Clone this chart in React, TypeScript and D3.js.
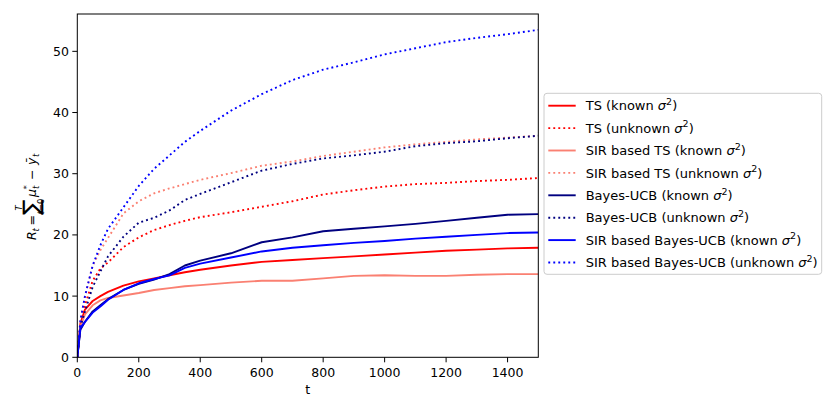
import React from 'react';
import * as d3 from 'd3';

// time steps and cumulative regret
const steps = [0, 10, 25, 50, 75, 100, 150, 200, 250, 300, 350, 400, 500, 600, 700, 800, 900, 1000, 1100, 1200, 1300, 1400, 1500];

const tsKnown = [0, 5.5, 7.8, 9.2, 10.0, 10.7, 11.7, 12.4, 12.9, 13.4, 13.9, 14.3, 15.0, 15.6, 15.9, 16.2, 16.5, 16.8, 17.1, 17.4, 17.6, 17.8, 17.9];
const tsUnknown = [0, 5, 8.5, 12.5, 14.5, 15.5, 18.0, 19.6, 20.8, 21.6, 22.3, 22.9, 23.7, 24.6, 25.5, 26.6, 27.3, 27.9, 28.3, 28.5, 28.8, 29.0, 29.3];
const sirTsKnown = [0, 5, 7.0, 8.5, 9.3, 9.7, 10.1, 10.5, 11.0, 11.3, 11.6, 11.8, 12.2, 12.5, 12.5, 12.9, 13.3, 13.4, 13.3, 13.3, 13.5, 13.6, 13.6];
const sirTsUnknown = [0, 6, 10, 15, 17.5, 19.5, 23.5, 25.5, 26.8, 27.6, 28.3, 29.0, 30.1, 31.3, 32.0, 32.9, 33.6, 34.3, 34.8, 35.2, 35.6, 35.9, 36.2];
const ucbKnown = [0, 4.5, 5.8, 7.5, 8.5, 9.5, 11.0, 12.0, 12.7, 13.6, 15.0, 15.8, 17.0, 18.8, 19.6, 20.6, 21.0, 21.4, 21.8, 22.3, 22.8, 23.3, 23.4];
const ucbUnknown = [0, 5, 7.5, 11.5, 14.0, 16.5, 19.7, 22.0, 22.8, 24.0, 25.7, 26.7, 28.6, 30.5, 31.6, 32.5, 33.0, 33.6, 34.5, 35.0, 35.3, 35.8, 36.2];
const sirUcbKnown = [0, 4.8, 5.8, 7.3, 8.3, 9.4, 11.0, 12.1, 12.8, 13.4, 14.6, 15.3, 16.3, 17.3, 17.9, 18.3, 18.7, 19.0, 19.4, 19.7, 20.0, 20.3, 20.4];
const sirUcbUnknown = [0, 6, 10, 15, 18.3, 21.0, 24.5, 28.0, 30.8, 33.0, 35.2, 37.0, 40.3, 43.0, 45.3, 47.0, 48.2, 49.5, 50.5, 51.5, 52.2, 52.8, 53.5];

const xTicks = [0, 200, 400, 600, 800, 1000, 1200, 1400];
const yTicks = [0, 10, 20, 30, 40, 50];

const series = [
  { name: 'TS', values: tsKnown, color: 'red', dotted: false },
  { name: 'TS', values: tsUnknown, color: 'red', dotted: true },
  { name: 'SIR based TS', values: sirTsKnown, color: 'salmon', dotted: false },
  { name: 'SIR based TS', values: sirTsUnknown, color: 'salmon', dotted: true },
  { name: 'Bayes-UCB', values: ucbKnown, color: 'navy', dotted: false },
  { name: 'Bayes-UCB', values: ucbUnknown, color: 'navy', dotted: true },
  { name: 'SIR based Bayes-UCB', values: sirUcbKnown, color: 'blue', dotted: false },
  { name: 'SIR based Bayes-UCB', values: sirUcbUnknown, color: 'blue', dotted: true },
];

const FONT = 'DejaVu Sans';
const left = 77.3, right = 538.3, top = 14, bottom = 357.3;

function App() {
  const x = d3.scaleLinear().domain([0, 1500]).range([left, right]);
  const y = d3.scaleLinear().domain([0, 56.1]).range([bottom, top]);
  const line = d3.line<number>().x((d, i) => x(steps[i])).y(d => y(d));

  const legX = 544, legY = 93.3, rowH = 22.4;

  return (
    <svg width={831} height={406} style={{ position: 'absolute', left: 0, top: 0 }} fontFamily={FONT}>
      <rect width={831} height={406} fill="white" />
      <defs>
        <clipPath id="plot">
          <rect x={left} y={top} width={right - left} height={bottom - top} />
        </clipPath>
      </defs>

      <g clipPath="url(#plot)">
        {series.map((s, i) => (
          <path key={i} d={line(s.values) || ''} fill="none" stroke={s.color} strokeWidth={1.9}
            strokeDasharray={s.dotted ? '1.9 3.1' : undefined} strokeLinejoin="round" />
        ))}
      </g>

      <rect x={left} y={top} width={right - left} height={bottom - top} fill="none" stroke="black" strokeWidth={1} />

      {xTicks.map(t => (
        <g key={t}>
          <line x1={x(t)} x2={x(t)} y1={bottom} y2={bottom + 5} stroke="black" />
          <text x={x(t)} y={377} textAnchor="middle" fontSize={12.5}>{t}</text>
        </g>
      ))}
      {yTicks.map(t => (
        <g key={t}>
          <line x1={left - 5} x2={left} y1={y(t)} y2={y(t)} stroke="black" />
          <text x={69} y={y(t) + 4.5} textAnchor="end" fontSize={12.5}>{t}</text>
        </g>
      ))}
      <text x={(left + right) / 2} y={394} textAnchor="middle" fontSize={12.5}>t</text>

      {/* y label: R_t = sum_{t=0}^{T} mu_t^* - ybar_t */}
      <g transform="translate(36,240) rotate(-90)" fontSize={12.5}>
        <text x={0} y={0} fontStyle="italic">R</text>
        <text x={8.5} y={3} fontSize={8.5} fontStyle="italic">t</text>
        <text x={14.5} y={0}>=</text>
        <text x={25} y={2.5} fontSize={23}>∑</text>
        <text x={29.5} y={-14.5} fontSize={8.5} fontStyle="italic">T</text>
        <text x={25.5} y={8} fontSize={8.5} fontStyle="italic">t<tspan fontStyle="normal">=0</tspan></text>
        <text x={43} y={0} fontStyle="italic">μ</text>
        <text x={50.5} y={-6} fontSize={8.5}>*</text>
        <text x={51} y={3} fontSize={8.5} fontStyle="italic">t</text>
        <text x={60} y={0}>−</text>
        <text x={75} y={0} fontStyle="italic">ȳ</text>
        <text x={83} y={3} fontSize={8.5} fontStyle="italic">t</text>
      </g>

      {/* legend */}
      <rect x={legX} y={legY} width={277.7} height={181} rx={3} fill="white" stroke="#cccccc" strokeWidth={1} />
      {series.map((s, i) => {
        const cy = 105.7 + i * rowH;
        return (
          <g key={i}>
            <line x1={548.3} x2={575.7} y1={cy} y2={cy} stroke={s.color} strokeWidth={1.9}
              strokeDasharray={s.dotted ? '1.9 3.1' : undefined} />
            <text x={585.7} y={cy + 4.7} fontSize={13}>
              {s.name} ({s.dotted ? 'unknown' : 'known'} <tspan fontStyle="italic">σ</tspan>
              <tspan fontSize={9.5} dy={-5.5}>2</tspan><tspan dy={5.5}>)</tspan>
            </text>
          </g>
        );
      })}
    </svg>
  );
}

export default App;
